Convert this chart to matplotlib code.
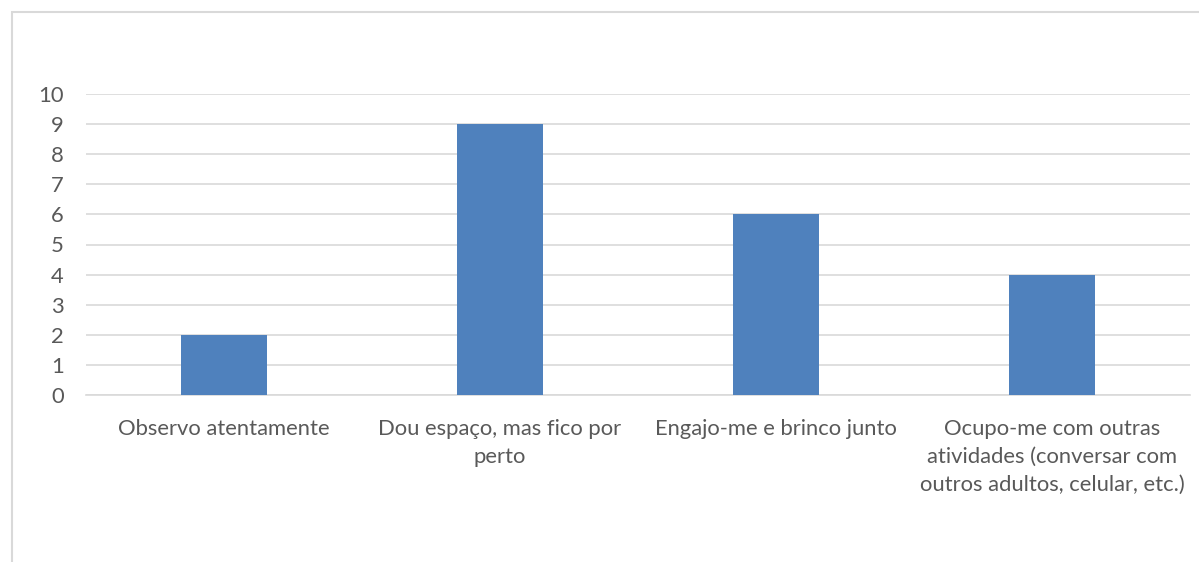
import matplotlib
matplotlib.use("Agg")
import matplotlib.pyplot as plt
from matplotlib.patches import Rectangle

categories = ["Observo atentamente",
              "Dou espaço, mas fico por\nperto",
              "Engajo-me e brinco junto",
              "Ocupo-me com outras\natividades (conversar com\noutros adultos, celular, etc.)"]
values = [2, 9, 6, 4]
yticks = list(range(0, 11))

W, H = 1199, 562
plt.rcParams['font.family'] = ['Lato', 'DejaVu Sans']
fig = plt.figure(figsize=(W/100, H/100), dpi=100)

# chart border
fig.patches.append(Rectangle((12/W, -0.1), 1.2, 1 - 12/H + 0.1, transform=fig.transFigure,
                             fill=False, edgecolor='#d9d9d9', linewidth=1.5))

left, right, top, bottom = 86, 1190, 94, 395
ax = fig.add_axes([left/W, 1 - bottom/H, (right-left)/W, (bottom-top)/H])
x = list(range(len(categories)))
ax.bar(x, values, width=0.31, color='#4F81BD', zorder=3)
ax.set_xlim(-0.5, len(categories)-0.5)
ax.set_ylim(0, 10)
ax.set_yticks(yticks)
ax.set_yticklabels([str(t) for t in yticks])
ax.set_xticks(x)
ax.set_xticklabels(categories, linespacing=1.52)
ax.grid(axis='y', color='#d9d9d9', linewidth=1.2, zorder=0)
for s in ['top', 'right', 'left']:
    ax.spines[s].set_visible(False)
ax.spines['bottom'].set_color('#d9d9d9')
ax.spines['bottom'].set_linewidth(1.2)
ax.tick_params(axis='both', length=0, labelsize=15.8, labelcolor='#595959')
ax.tick_params(axis='y', pad=16)
ax.tick_params(axis='x', pad=17)
fig.savefig('out.png', dpi=100)
